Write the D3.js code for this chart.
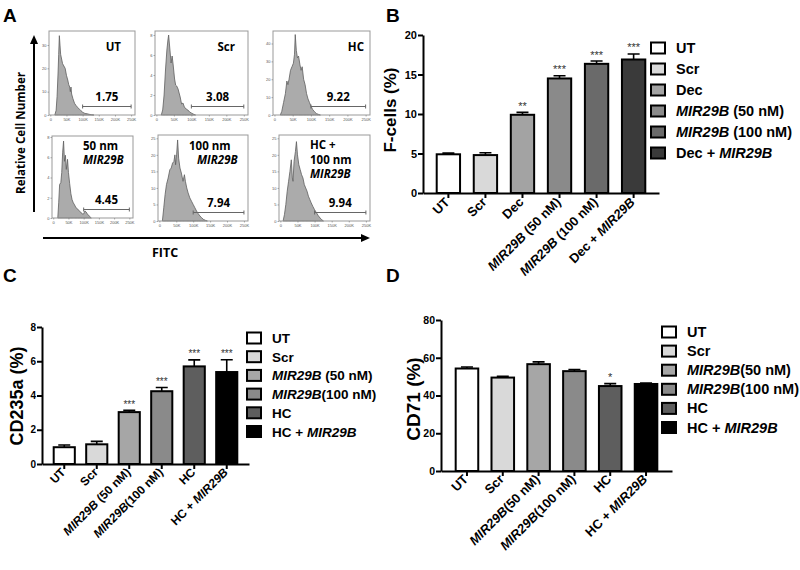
<!DOCTYPE html>
<html><head><meta charset="utf-8">
<script src="https://cdn.jsdelivr.net/npm/d3@7"></script>
<style>body{margin:0;background:#fff} svg{display:block}</style>
</head><body>
<svg id="fig" width="800" height="570"></svg>
<script>
// ---------------- Panel A data (flow histograms) ----------------
const histNames = ["UT","Scr","HC","50 nm MIR29B","100 nm MIR29B","HC + 100 nm MIR29B"];
const histGateValues = ["1.75","3.08","9.22","4.45","7.94","9.94"];
const histYTicks = [[0,10,20,30],[0,2,4,6,8],[0,10,20,30,40],[0,2,4,6,8],[0,5,10,15,20,25],[0,5,10,15,20,25]];
const histYMax = [36, 8.4, 47, 8.1, 26, 26];
const histXTicks = [0,50,100,150,200,250];
const histXTickLabels = ["0","50K","100K","150K","200K","250K"];
// [FITC (K), count]
const histUT = [[14,0],[18,2],[21,8],[24,18],[26,26],[28,34],[30,30],[32,26],[35,24],[38,22],[42,21],[46,20],[50,17],[54,15],[57,13],[60,12],[62,10],[64,12],[66,9],[70,7],[75,5],[80,4],[85,3.2],[90,2.5],[95,1.8],[100,1.2],[105,0.8],[110,0.6],[115,0.5],[120,0.3],[128,0.1],[135,0]];
const histScr = [[14,0],[18,0.5],[22,2],[26,4.5],[30,6.5],[33,7.5],[35,8],[38,6.8],[42,5.2],[45,5.9],[48,5.0],[52,3.6],[55,3.0],[58,2.9],[62,2.6],[65,2.2],[68,1.8],[72,1.1],[76,1.2],[80,0.8],[85,0.6],[90,0.5],[95,0.3],[100,0.2],[105,0.1],[112,0]];
const histHC = [[16,0],[20,2],[25,7],[30,12],[34,19],[37,17],[40,20],[44,25],[48,27],[52,29],[55,34],[57,45],[60,36],[63,32],[66,33],[70,28],[73,25],[76,27],[80,20],[84,17],[88,12],[92,9],[96,7],[100,5],[105,3],[110,1.8],[115,0.8],[120,0.4],[126,0]];
const hist50 = [[15,0],[18,1.5],[21,3.3],[25,3.5],[28,4.5],[31,6.5],[34,7.6],[37,5.6],[40,6.2],[43,4.8],[47,5.8],[50,4.5],[54,3.4],[58,2.4],[62,1.8],[66,1.5],[70,1.3],[75,1.0],[80,0.9],[85,0.7],[90,0.6],[95,0.4],[100,0.4],[104,0.7],[108,0.6],[112,0.4],[118,0.2],[125,0]];
const hist100 = [[9,0],[13,4],[17,8],[21,11],[26,13],[31,15.5],[35,16],[39,17.5],[43,18],[46,20],[48,17],[51,20],[54,24.5],[57,19],[61,16],[65,14.5],[68,13],[70,12],[74,14],[77,12],[81,10],[85,8.5],[90,7],[95,6],[100,5],[105,4],[110,3],[115,2.2],[120,1.5],[125,1],[130,0.5],[136,0.2],[142,0]];
const histHC100 = [[8,0],[12,2],[16,5],[20,9],[24,12],[28,15],[32,18.5],[35,13],[37,12],[40,18],[44,21],[47,24],[50,20],[54,17],[58,15.5],[62,14],[66,13],[70,11],[74,10],[78,9],[82,7.5],[86,6.5],[90,5.5],[95,4.4],[100,3.4],[106,2.4],[111,1.6],[116,0.9],[121,0.4],[126,0]];
const histSeries = [histUT, histScr, histHC, hist50, hist100, histHC100];

// ---------------- Panel B data ----------------
const catB = ["UT","Scr","Dec","MIR29B (50 nM)","MIR29B (100 nM)","Dec + MIR29B"];
const meanB = [4.9, 4.8, 9.9, 14.5, 16.35, 16.9];
const errB = [0.15, 0.3, 0.3, 0.35, 0.35, 0.7];
const sigB = ["","","**","***","***","***"];
const yTicksB = [0,5,10,15,20];
const colorsB = ["#ffffff","#d9d9d9","#a3a3a3","#8a8a8a","#6a6a6a","#3a3a3a"];

// ---------------- Panel C data ----------------
const catC = ["UT","Scr","MIR29B (50 nM)","MIR29B(100 nM)","HC","HC + MIR29B"];
const meanC = [0.98, 1.15, 3.03, 4.25, 5.7, 5.37];
const errC = [0.13, 0.17, 0.1, 0.22, 0.38, 0.72];
const sigC = ["","","***","***","***","***"];
const yTicksC = [0,2,4,6,8];
const colorsC = ["#ffffff","#d9d9d9","#a6a6a6","#8a8a8a","#5e5e5e","#000000"];

// ---------------- Panel D data ----------------
const catD = ["UT","Scr","MIR29B(50 nM)","MIR29B(100 nM)","HC","HC + MIR29B"];
const meanD = [54.3, 49.5, 56.6, 52.9, 45.0, 46.1];
const errD = [0.8, 0.7, 1.2, 0.9, 1.3, 0.5];
const sigD = ["","","","","*",""];
const yTicksD = [0,20,40,60,80];
const colorsD = ["#ffffff","#d9d9d9","#a6a6a6","#8a8a8a","#5e5e5e","#000000"];

const svg = d3.select("#fig");
const AR = "'Liberation Sans', Arial, sans-serif";
const OS = "'Open Sans', 'Noto Sans', sans-serif";

function rich(sel, str) {
  str.split(/(MIR29B)/).forEach(p => {
    if (!p) return;
    sel.append("tspan").attr("font-style", p === "MIR29B" ? "italic" : "normal").text(p);
  });
}

// panel letters
[["A",3,22],["B",386,22],["C",3,282],["D",386,282]].forEach(([t,x,y]) =>
  svg.append("text").attr("x",x).attr("y",y).attr("font-family",AR).attr("font-weight","bold")
     .attr("font-size",19).text(t));

// ---------------- Panel A ----------------
const frames = [
  {x0:49,x1:135,y0:31,y1:115},{x0:155,x1:248,y0:31,y1:115},{x0:273,x1:370,y0:31,y1:115},
  {x0:52,x1:133,y0:136,y1:218},{x0:158,x1:248,y0:135,y1:221},{x0:279,x1:370,y0:135,y1:221}
];
const nameLayout = [
  {anchor:"end", x:121, lines:[["UT",51]]},
  {anchor:"end", x:235, lines:[["Scr",51]]},
  {anchor:"end", x:364, lines:[["HC",51]]},
  {anchor:"start", x:83, lines:[["50 nm",150],["MIR29B",164]]},
  {anchor:"start", x:189, lines:[["100 nm",150],["MIR29B",164]], x2:197},
  {anchor:"start", x:310, lines:[["HC +",149],["100 nm",164],["MIR29B",178]]}
];
const gA = svg.append("g");
histSeries.forEach((data, i) => {
  const f = frames[i];
  const x = d3.scaleLinear().domain([-4, 262]).range([f.x0, f.x1]);
  const y = d3.scaleLinear().domain([0, histYMax[i]]).range([f.y1, f.y0]);
  const g = gA.append("g");
  const area = d3.area().x(d => x(d[0])).y0(f.y1).y1(d => y(d[1]));
  g.append("path").datum(data).attr("d", area).attr("fill","#ababab")
    .attr("stroke","#5e5e5e").attr("stroke-width",0.8);
  g.append("rect").attr("x",f.x0).attr("y",f.y0).attr("width",f.x1-f.x0).attr("height",f.y1-f.y0)
    .attr("fill","none").attr("stroke","#999").attr("stroke-width",1);
  const ax = g.append("g").attr("transform",`translate(0,${f.y1})`)
    .call(d3.axisBottom(x).tickValues(histXTicks).tickFormat((d,k)=>histXTickLabels[k]).tickSize(1.5).tickSizeOuter(0));
  const ay = g.append("g").attr("transform",`translate(${f.x0},0)`)
    .call(d3.axisLeft(y).tickValues(histYTicks[i]).tickSize(1.5).tickSizeOuter(0));
  [ax, ay].forEach(a => {
    a.select(".domain").remove();
    a.selectAll("line").attr("stroke","#777").attr("stroke-width",0.6);
    a.selectAll("text").attr("font-size",4).attr("font-family",AR).attr("fill","#555");
  });
  ay.selectAll("text").attr("x",-2.5);
  ax.selectAll("text").attr("y",3.5);
  // gate
  const gy = f.y1 - 8.5, gx0 = x(100), gx1 = x(250);
  g.append("path").attr("d",`M${gx0},${gy-2}V${gy+2}M${gx0},${gy}H${gx1}M${gx1},${gy-2}V${gy+2}`)
    .attr("stroke","#666").attr("stroke-width",1).attr("fill","none");
  g.append("text").attr("x",x(175)).attr("y",f.y1-14).attr("text-anchor","middle")
    .attr("font-family",OS).attr("font-weight","bold").attr("font-size",11.5).text(histGateValues[i]);
  const nl = nameLayout[i];
  nl.lines.forEach(([t,yy],k) => {
    const tx = g.append("text").attr("x", (nl.x2 && k===1) ? nl.x2 : nl.x).attr("y",yy)
      .attr("text-anchor",nl.anchor).attr("font-family",OS).attr("font-weight","bold").attr("font-size",11.5);
    rich(tx, t);
  });
});
// axis arrows
gA.append("line").attr("x1",34).attr("y1",212).attr("x2",34).attr("y2",42).attr("stroke","#000").attr("stroke-width",2);
gA.append("path").attr("d","M34,35L30,44L38,44Z").attr("fill","#000");
gA.append("line").attr("x1",43).attr("y1",238).attr("x2",362).attr("y2",238).attr("stroke","#000").attr("stroke-width",2);
gA.append("path").attr("d","M370,238L361,234L361,242Z").attr("fill","#000");
gA.append("text").attr("transform","translate(25,133) rotate(-90)").attr("text-anchor","middle")
  .attr("font-family",OS).attr("font-weight","bold").attr("font-size",12)
  .attr("textLength",122).attr("lengthAdjust","spacingAndGlyphs").text("Relative Cell Number");
gA.append("text").attr("x",165).attr("y",257).attr("text-anchor","middle")
  .attr("font-family",OS).attr("font-weight","bold").attr("font-size",12.5).text("FITC");

// ---------------- Bar panels ----------------
function barPanel(o) {
  const g = svg.append("g");
  const x = d3.scaleBand().domain(o.cats).range([o.ax0, o.ax1]).paddingInner(o.pi).paddingOuter(o.po);
  const y = d3.scaleLinear().domain([0, o.yMax]).range([o.y0, o.y1]);
  const bw = x.bandwidth();
  g.selectAll("rect.bar").data(o.cats).join("rect").attr("class","bar")
    .attr("x", d => x(d)).attr("width", bw)
    .attr("y", (d,i) => y(o.mean[i])).attr("height", (d,i) => o.y0 - y(o.mean[i]))
    .attr("fill", (d,i) => o.colors[i]).attr("stroke","#000").attr("stroke-width",2);
  o.cats.forEach((c,i) => {
    const cx = x(c) + bw/2, yt = y(o.mean[i] + o.err[i]), yb = y(o.mean[i]);
    g.append("path").attr("d",`M${cx},${yb}V${yt}M${cx-o.cap},${yt}H${cx+o.cap}`)
      .attr("stroke","#000").attr("stroke-width",1.6).attr("fill","none");
    if (o.sig[i]) g.append("text").attr("x",cx).attr("y",yt-2.5).attr("text-anchor","middle")
      .attr("font-family",AR).attr("font-size",o.starSize).attr("fill","#333").text(o.sig[i]);
  });
  const ay = g.append("g").attr("transform",`translate(${o.ax0},0)`)
    .call(d3.axisLeft(y).tickValues(o.yTicks).tickSize(5).tickSizeOuter(0));
  ay.select(".domain").attr("stroke-width",2);
  ay.selectAll(".tick line").attr("stroke-width",2);
  ay.selectAll("text").attr("font-family",AR).attr("font-weight","bold").attr("font-size",o.tickSize).attr("fill","#000").attr("x",-6);
  const ax = g.append("g").attr("transform",`translate(0,${o.y0})`)
    .call(d3.axisBottom(x).tickSize(5).tickSizeOuter(0).tickFormat(""));
  ax.select(".domain").attr("stroke-width",2);
  ax.selectAll(".tick line").attr("stroke-width",2);
  o.cats.forEach(c => {
    const cx = x(c) + bw/2;
    const t = g.append("text").attr("transform",`translate(${cx+o.lx},${o.y0+o.ly}) rotate(-45)`)
      .attr("text-anchor","end").attr("font-family",AR).attr("font-weight","bold").attr("font-size",o.xlSize);
    rich(t, c);
  });
  g.append("text").attr("transform",`translate(${o.tx},${o.ty}) rotate(-90)`).attr("text-anchor","middle")
    .attr("font-family",AR).attr("font-weight","bold").attr("font-size",o.titleSize).text(o.title);
  o.legend.forEach((c,i) => {
    const yy = o.legY + i*o.legStep;
    g.append("rect").attr("x",o.legX).attr("y",yy-5.5).attr("width",14).attr("height",11)
      .attr("fill",o.colors[i]).attr("stroke","#000").attr("stroke-width",2);
    const t = g.append("text").attr("x",o.legX+25).attr("y",yy+5).attr("font-family",AR)
      .attr("font-weight","bold").attr("font-size",o.legSize);
    rich(t, c);
  });
}

barPanel({cats:catB, mean:meanB, err:errB, sig:sigB, colors:colorsB, yTicks:yTicksB, yMax:20,
  ax0:423, ax1:659, pi:0.37, po:0.37, y0:193, y1:35, cap:6, starSize:11, tickSize:11,
  xlSize:13, lx:2, ly:10, title:"F-cells (%)", tx:396, ty:110, titleSize:17,
  legend:catB, legX:651, legY:48, legStep:21, legSize:14.5});

barPanel({cats:catC, mean:meanC, err:errC, sig:sigC, colors:colorsC, yTicks:yTicksC, yMax:8,
  ax0:42, ax1:249, pi:0.35, po:0.36, y0:464, y1:327, cap:6, starSize:10, tickSize:10,
  xlSize:12, lx:2, ly:9, title:"CD235a (%)", tx:23, ty:396, titleSize:18,
  legend:catC, legX:247, legY:338, legStep:18.7, legSize:13.5});

barPanel({cats:catD, mean:meanD, err:errD, sig:sigD, colors:colorsD, yTicks:yTicksD, yMax:80,
  ax0:441, ax1:672, pi:0.37, po:0.41, y0:471, y1:320, cap:6, starSize:11, tickSize:10.5,
  xlSize:13, lx:2, ly:9, title:"CD71 (%)", tx:420, ty:399, titleSize:19,
  legend:catD, legX:662, legY:332, legStep:19.1, legSize:14.5});
</script>
</body></html>
